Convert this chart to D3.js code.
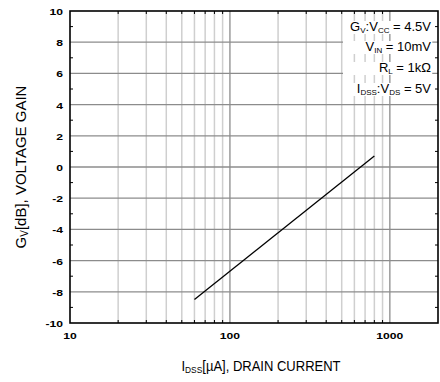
<!DOCTYPE html>
<html>
<head>
<meta charset="utf-8">
<script src="https://cdn.jsdelivr.net/npm/d3@7/dist/d3.min.js"></script>
<style>
  html, body { margin: 0; padding: 0; background: #fff; }
  svg { display: block; font-family: "Liberation Sans", Arial, sans-serif; }
</style>
</head>
<body>
<svg id="chart" width="440" height="382"></svg>
<script>
// Voltage gain vs. drain current (log x axis)
const currentUA = [60, 800];          // I_DSS [µA]
const gainDB = [-8.5, 0.7];           // G_V [dB]

const xTickValues = [10, 100, 1000];
const xTickLabels = ["10", "100", "1000"];
const yTickValues = [-10, -8, -6, -4, -2, 0, 2, 4, 6, 8, 10];
const xDomain = [10, 2000];
const yDomain = [-10, 10];

// Conditions box: text segments per row, flagged when subscript
const conditionRows = [
  [["G", false], ["V", true], [":V", false], ["CC", true], [" = 4.5V", false]],
  [["V", false], ["IN", true], [" = 10mV", false]],
  [["R", false], ["L", true], [" = 1kΩ", false]],
  [["I", false], ["DSS", true], [":V", false], ["DS", true], [" = 5V", false]]
];

const svg = d3.select("#chart");
const plotL = 70, plotR = 438, plotT = 11, plotB = 323;

const x = d3.scaleLog().domain(xDomain).range([plotL, plotR]);
const y = d3.scaleLinear().domain(yDomain).range([plotB, plotT]);

// minor decade positions
const minorX = [];
for (let dec = 10; dec < 2000; dec *= 10) {
  for (let k = 2; k <= 9; k++) {
    const v = dec * k;
    if (v < xDomain[1]) minorX.push(v);
  }
}
const minorY = d3.range(-9, 10, 2);

const grid = svg.append("g");
grid.selectAll("line.vminor").data(minorX).join("line")
  .attr("class", "vminor")
  .attr("x1", d => x(d)).attr("x2", d => x(d))
  .attr("y1", plotT).attr("y2", plotB)
  .attr("stroke", "#cfcfcf").attr("stroke-width", 1.5);
grid.selectAll("line.vmajor").data(xTickValues.slice(1)).join("line")
  .attr("class", "vmajor")
  .attr("x1", d => x(d)).attr("x2", d => x(d))
  .attr("y1", plotT).attr("y2", plotB)
  .attr("stroke", "#8c8c8c").attr("stroke-width", 1.3);
grid.selectAll("line.hmajor").data(yTickValues.slice(1, -1)).join("line")
  .attr("class", "hmajor")
  .attr("x1", plotL).attr("x2", plotR)
  .attr("y1", d => y(d)).attr("y2", d => y(d))
  .attr("stroke", "#8c8c8c").attr("stroke-width", 1.3);

// minor inward ticks on all four sides
const ticks = svg.append("g").attr("stroke", "#000").attr("stroke-width", 1);
ticks.selectAll("line.tl").data(minorY).join("line").attr("class", "tl")
  .attr("x1", plotL).attr("x2", plotL + 3).attr("y1", d => y(d)).attr("y2", d => y(d));
ticks.selectAll("line.tr").data(minorY).join("line").attr("class", "tr")
  .attr("x1", plotR).attr("x2", plotR - 3).attr("y1", d => y(d)).attr("y2", d => y(d));
ticks.selectAll("line.tt").data(minorX).join("line").attr("class", "tt")
  .attr("x1", d => x(d)).attr("x2", d => x(d)).attr("y1", plotT).attr("y2", plotT + 3);
ticks.selectAll("line.tb").data(minorX).join("line").attr("class", "tb")
  .attr("x1", d => x(d)).attr("x2", d => x(d)).attr("y1", plotB).attr("y2", plotB - 3);

// conditions text with white backing
const cond = svg.append("g");
const rowBase = [31, 51, 72, 93];
conditionRows.forEach((row, i) => {
  const bg = cond.append("rect").attr("fill", "#fff");
  const t = cond.append("text")
    .attr("x", 431).attr("y", rowBase[i])
    .attr("text-anchor", "end")
    .attr("font-size", 13).attr("fill", "#000");
  row.forEach(([s, sub], j) => {
    const prevSub = j > 0 && row[j - 1][1];
    t.append("tspan")
      .attr("font-size", sub ? 8 : 13)
      .attr("dy", sub ? 2 : (prevSub ? -2 : 0))
      .text(s);
  });
  const bb = t.node().getBBox();
  bg.attr("x", 343).attr("y", bb.y + 2)
    .attr("width", bb.x + bb.width - 343 + 1)
    .attr("height", bb.height - 3);
});

// data line
const line = d3.line().x(d => x(d[0])).y(d => y(d[1]));
svg.append("path")
  .datum(currentUA.map((c, i) => [c, gainDB[i]]))
  .attr("d", line)
  .attr("fill", "none").attr("stroke", "#000").attr("stroke-width", 1.3);

// frame
svg.append("rect")
  .attr("x", plotL).attr("y", plotT)
  .attr("width", plotR - plotL).attr("height", plotB - plotT)
  .attr("fill", "none").attr("stroke", "#000").attr("stroke-width", 1.6);

// y tick labels (wide bold digits)
svg.append("g").selectAll("text").data(yTickValues).join("text")
  .attr("transform", d => `translate(63,${y(d) + 4}) scale(1.35,1)`)
  .attr("text-anchor", "end")
  .attr("font-size", 9).attr("font-weight", "bold")
  .text(d => d);

// x tick labels
svg.append("g").selectAll("text").data(xTickValues).join("text")
  .attr("transform", d => `translate(${x(d)},339) scale(1.35,1)`)
  .attr("text-anchor", "middle")
  .attr("font-size", 9).attr("font-weight", "bold")
  .text((d, i) => xTickLabels[i]);

// axis titles
const xt = svg.append("text")
  .attr("transform", "translate(261,371) scale(0.93,1)")
  .attr("text-anchor", "middle").attr("font-size", 14);
xt.append("tspan").text("I");
xt.append("tspan").attr("font-size", 9).attr("dy", 2).text("DSS");
xt.append("tspan").attr("dy", -2).text("[µA], DRAIN CURRENT");

const yt = svg.append("text")
  .attr("transform", "translate(26,167) rotate(-90)")
  .attr("text-anchor", "middle").attr("font-size", 15);
yt.append("tspan").text("G");
yt.append("tspan").attr("font-size", 10).attr("dy", 2).text("V");
yt.append("tspan").attr("dy", -2).text("[dB], VOLTAGE GAIN");
</script>
</body>
</html>
